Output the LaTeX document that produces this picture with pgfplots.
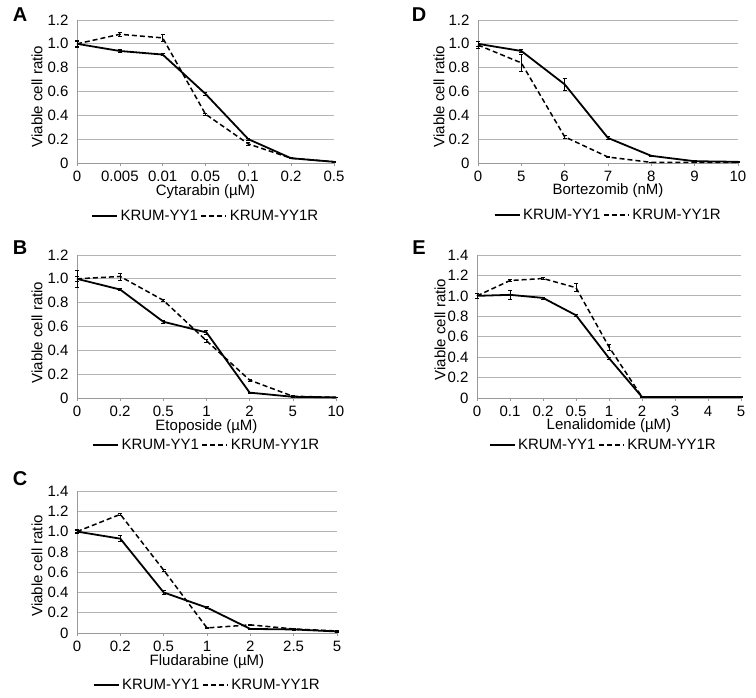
\documentclass[border=0pt]{standalone}
\usepackage{pgfplots}
\pgfplotsset{compat=1.18}
\usepackage{fontspec}
\setmainfont{Liberation Sans}

\definecolor{gridgray}{HTML}{B4B4B4}
\definecolor{axgray}{HTML}{9A9A9A}

\pgfplotsset{
  panel/.style={
    scale only axis,
    clip=false,
    xmin=0,
    ymin=0,
    axis x line*=bottom,
    axis y line*=left,
    axis line style={axgray, line width=0.8pt, -},
    ymajorgrids,
    grid style={gridgray, line width=0.8pt},
    xtick=data,
    tick align=outside,
    major tick length=3pt,
    xtick style={axgray, line width=0.6pt},
    ytick style={draw=none},
    font=\fontsize{15}{17}\selectfont,
    tick label style={font=\fontsize{15}{17}\selectfont},
    yticklabel style={xshift=-2pt},
    xticklabel style={inner sep=1pt, yshift=-4pt},
    legend columns=2,
    legend style={draw=none, fill=none, font=\fontsize{15}{17}\selectfont,
      anchor=center, inner sep=0pt,
      /tikz/every odd column/.append style={column sep=0pt}},
    legend cell align=left,
    legend image code/.code={\draw[#1, line width=2.8pt] (0pt,0pt) -- (25pt,0pt);},
  },
  yy1/.style={black, line width=1.8pt, mark=none,
    error bars/.cd, y dir=both, y explicit,
    error bar style={black, line width=0.7pt, solid},
    error mark options={black, line width=0.7pt, rotate=90, mark size=2pt, solid}},
  yy1r/.style={black, line width=1.5pt, mark=none, dash pattern=on 5pt off 3pt,
    error bars/.cd, y dir=both, y explicit,
    error bar style={black, line width=0.7pt, solid},
    error mark options={black, line width=0.7pt, rotate=90, mark size=2pt, solid}},
  ylow/.style={ymax=1.2, ytick={0,0.2,0.4,0.6,0.8,1.0,1.2},
    yticklabels={0,0.2,0.4,0.6,0.8,1.0,1.2}},
  yhigh/.style={ymax=1.4, ytick={0,0.2,0.4,0.6,0.8,1.0,1.2,1.4},
    yticklabels={0,0.2,0.4,0.6,0.8,1.0,1.2,1.4}},
}
\tikzset{xlab/.style={inner sep=0pt}}

\begin{document}
\begin{tikzpicture}
\path[use as bounding box] (0pt,0pt) rectangle (756pt,-698pt);

% ---------------- A
\node[font=\fontsize{20}{22}\selectfont\bfseries] at (20pt,-15pt) {A};
\begin{axis}[panel, ylow, at={(77pt,-163pt)}, anchor=south west,
  width=257pt, height=143pt, xmax=6,
  xticklabels={0,0.005,0.01,0.05,0.1,0.2,0.5},
  legend style={at={(axis description cs:0.5,0)}, yshift=-53pt}]
\addplot+[yy1] coordinates {
  (0,1.00) +- (0,0.02) (1,0.94) +- (0,0.01) (2,0.91) +- (0,0.01)
  (3,0.58) +- (0,0.015) (4,0.20) +- (0,0.01) (5,0.04) +- (0,0.005) (6,0.01) +- (0,0.005)};
\addplot+[yy1r] coordinates {
  (0,1.00) +- (0,0.03) (1,1.08) +- (0,0.015) (2,1.05) +- (0,0.03)
  (3,0.41) +- (0,0.01) (4,0.16) +- (0,0.01) (5,0.04) +- (0,0.005) (6,0.01) +- (0,0.005)};
\legend{KRUM-YY1,KRUM-YY1R}
\node[rotate=90] at ([xshift=-40pt, yshift=-5pt]rel axis cs:0,0.5) {Viable cell ratio};
\node[xlab] at ([yshift=-29pt]rel axis cs:0.5,0) {Cytarabin (µM)};
\end{axis}

% ---------------- D
\node[font=\fontsize{20}{22}\selectfont\bfseries] at (419pt,-15pt) {D};
\begin{axis}[panel, ylow, at={(478pt,-163pt)}, anchor=south west,
  width=260pt, height=143pt, xmax=6,
  xticklabels={0,5,6,7,8,9,10},
  legend style={at={(axis description cs:0.5,0)}, yshift=-52pt}]
\addplot+[yy1] coordinates {
  (0,1.00) +- (0,0.02) (1,0.94) +- (0,0.01) (2,0.66) +- (0,0.05)
  (3,0.21) +- (0,0.01) (4,0.06) +- (0,0.005) (5,0.015) +- (0,0.005) (6,0.01) +- (0,0.005)};
\addplot+[yy1r] coordinates {
  (0,0.99) +- (0,0.03) (1,0.84) +- (0,0.07) (2,0.22) +- (0,0.01)
  (3,0.05) +- (0,0.005) (4,0.005) +- (0,0.003) (5,0.005) +- (0,0.003) (6,0.005) +- (0,0.003)};
\legend{KRUM-YY1,KRUM-YY1R}
\node[rotate=90] at ([xshift=-39pt, yshift=-5pt]rel axis cs:0,0.5) {Viable cell ratio};
\node[xlab] at ([yshift=-28pt]rel axis cs:0.5,0) {Bortezomib (nM)};
\end{axis}

% ---------------- B
\node[font=\fontsize{20}{22}\selectfont\bfseries] at (20pt,-248pt) {B};
\begin{axis}[panel, ylow, at={(77pt,-398pt)}, anchor=south west,
  width=259pt, height=143pt, xmax=6,
  xticklabels={0,0.2,0.5,1,2,5,10},
  legend style={at={(axis description cs:0.5,0)}, yshift=-47pt}]
\addplot+[yy1] coordinates {
  (0,1.00) +- (0,0.07) (1,0.91) +- (0,0.01) (2,0.64) +- (0,0.01)
  (3,0.55) +- (0,0.02) (4,0.045) +- (0,0.005) (5,0.01) +- (0,0.005) (6,0.005) +- (0,0.003)};
\addplot+[yy1r] coordinates {
  (0,1.00) +- (0,0.02) (1,1.02) +- (0,0.03) (2,0.82) +- (0,0.01)
  (3,0.48) +- (0,0.01) (4,0.15) +- (0,0.01) (5,0.015) +- (0,0.005) (6,0.005) +- (0,0.003)};
\legend{KRUM-YY1,KRUM-YY1R}
\node[rotate=90] at ([xshift=-40pt, yshift=-6pt]rel axis cs:0,0.5) {Viable cell ratio};
\node[xlab] at ([yshift=-29pt]rel axis cs:0.5,0) {Etoposide (µM)};
\end{axis}

% ---------------- E
\node[font=\fontsize{20}{22}\selectfont\bfseries] at (419pt,-248pt) {E};
\begin{axis}[panel, yhigh, at={(477pt,-398pt)}, anchor=south west,
  width=264pt, height=143pt, xmax=8,
  xticklabels={0,0.1,0.2,0.5,1,2,3,4,5},
  legend style={at={(axis description cs:0.5,0)}, yshift=-47pt, xshift=-6pt}]
\addplot+[yy1] coordinates {
  (0,1.00) +- (0,0.02) (1,1.01) +- (0,0.04) (2,0.98) +- (0,0.01)
  (3,0.81) +- (0,0.01) (4,0.39) +- (0,0.01) (5,0.01) +- (0,0.005)
  (6,0.01) +- (0,0.003) (7,0.01) +- (0,0.003) (8,0.01) +- (0,0.003)};
\addplot+[yy1r] coordinates {
  (0,1.00) +- (0,0.02) (1,1.15) +- (0,0.01) (2,1.17) +- (0,0.01)
  (3,1.08) +- (0,0.04) (4,0.50) +- (0,0.03) (5,0.01) +- (0,0.005)
  (6,0.01) +- (0,0.003) (7,0.01) +- (0,0.003) (8,0.01) +- (0,0.003)};
\legend{KRUM-YY1,KRUM-YY1R}
\node[rotate=90] at ([xshift=-37pt, yshift=-3pt]rel axis cs:0,0.5) {Viable cell ratio};
\node[xlab] at ([yshift=-28pt]rel axis cs:0.5,0) {Lenalidomide (µM)};
\end{axis}

% ---------------- C
\node[font=\fontsize{20}{22}\selectfont\bfseries] at (20pt,-479pt) {C};
\begin{axis}[panel, yhigh, at={(77pt,-633pt)}, anchor=south west,
  width=260pt, height=142pt, xmax=6,
  xticklabels={0,0.2,0.5,1,2,2.5,5},
  legend style={at={(axis description cs:0.5,0)}, yshift=-52pt}]
\addplot+[yy1] coordinates {
  (0,1.00) +- (0,0.02) (1,0.93) +- (0,0.03) (2,0.40) +- (0,0.02)
  (3,0.25) +- (0,0.01) (4,0.04) +- (0,0.005) (5,0.035) +- (0,0.005) (6,0.015) +- (0,0.005)};
\addplot+[yy1r] coordinates {
  (0,1.00) +- (0,0.01) (1,1.17) +- (0,0.01) (2,0.62) +- (0,0.01)
  (3,0.05) +- (0,0.005) (4,0.08) +- (0,0.005) (5,0.04) +- (0,0.005) (6,0.02) +- (0,0.005)};
\legend{KRUM-YY1,KRUM-YY1R}
\node[rotate=90] at ([xshift=-40pt, yshift=-4pt]rel axis cs:0,0.5) {Viable cell ratio};
\node[xlab] at ([yshift=-29pt]rel axis cs:0.5,0) {Fludarabine (µM)};
\end{axis}
\end{tikzpicture}
\end{document}
